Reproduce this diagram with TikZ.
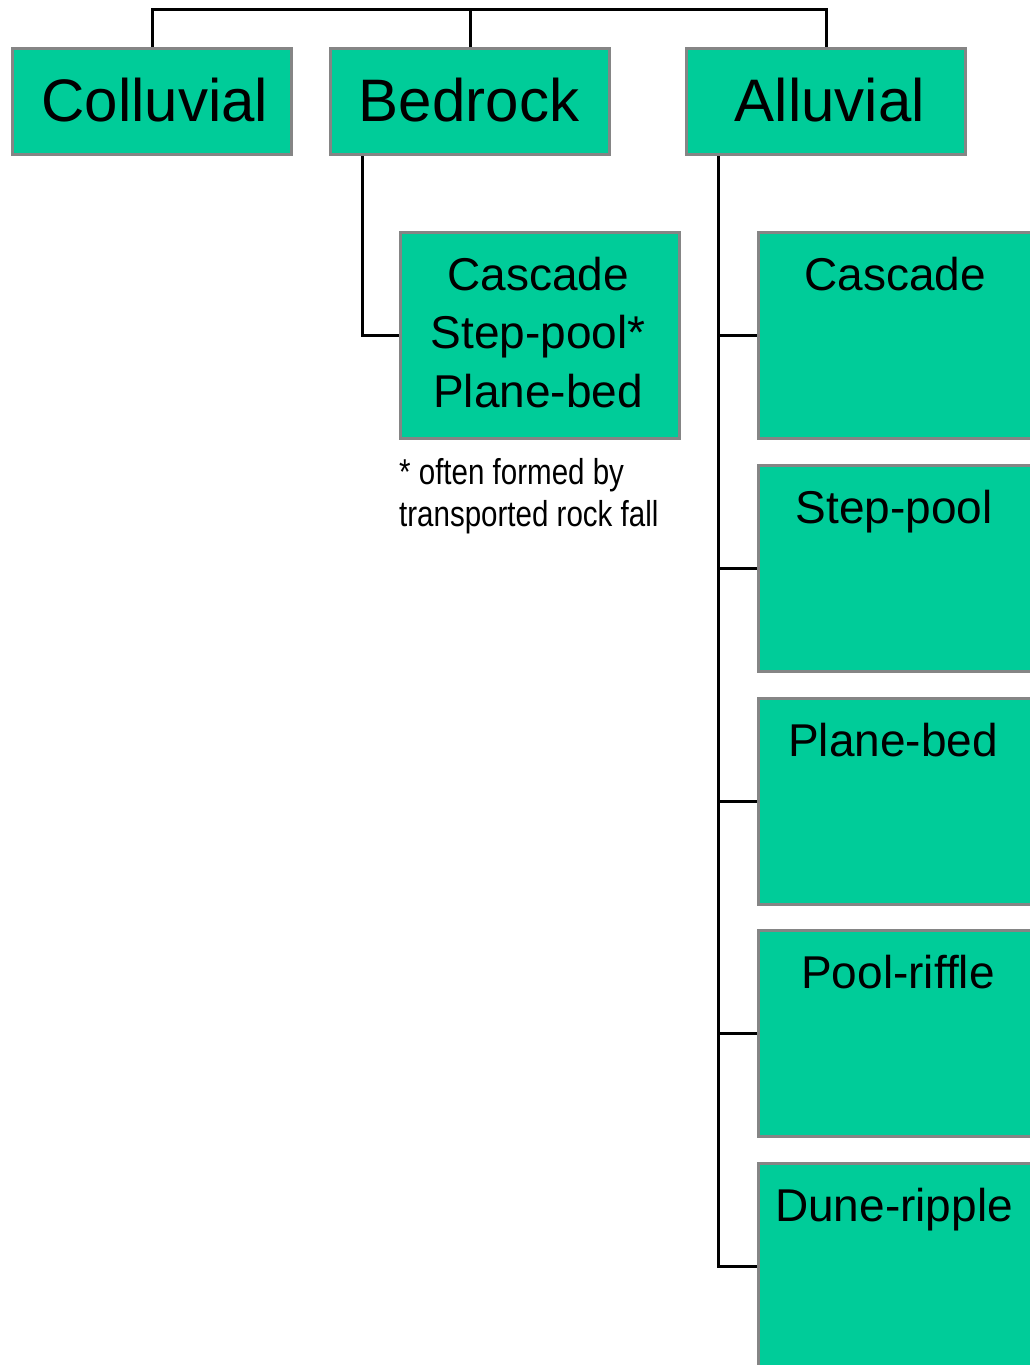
\documentclass[tikz,border=0pt]{standalone}
\usepackage{fontspec}
\setmainfont{Liberation Sans}
\newfontfamily\narrowfont[FakeStretch=0.82]{Liberation Sans}
\definecolor{boxgreen}{HTML}{00CC99}
\definecolor{boxedge}{HTML}{858585}
\begin{document}
\begin{tikzpicture}[x=1pt,y=-1pt,
  box/.style={draw=boxedge, line width=3pt, fill=boxgreen, rectangle, inner sep=0pt, anchor=north west},
  topbox/.style={box, minimum width=279pt, minimum height=106pt},
  toptext/.style={inner sep=0pt, font=\fontsize{60}{70}\selectfont},
  subbox/.style={box, minimum width=279pt, minimum height=206pt},
  subtext/.style={inner sep=0pt, align=center, font=\fontsize{46}{58.5}\selectfont},
  rbox/.style={box, minimum width=300pt, minimum height=206pt},
  rtext/.style={anchor=base, inner sep=0pt, font=\fontsize{46}{55}\selectfont},
  conn/.style={draw=black, line width=3pt}
]
\path[use as bounding box] (0,0) rectangle (1030,1365);
\clip (0,0) rectangle (1030,1365);

% top level boxes
\node[topbox] (coll) at (11,47) {};
\node[topbox] (bed) at (329,47) {};
\node[topbox] (allu) at (685,47) {};
\node[toptext] (colltext) at ([xshift=3pt,yshift=1pt]coll.center) {Colluvial};
\node[toptext] (bedtext) at ([xshift=-1pt,yshift=1pt]bed.center) {Bedrock};
\node[toptext] (allutext) at ([xshift=4pt,yshift=1pt]allu.center) {Alluvial};

% bedrock sub box
\node[subbox] (bsub) at (399,231) {};
\node[subtext] (bsubtext) at ([xshift=-2pt,yshift=3pt]bsub.center) {Cascade\\ Step-pool*\\Plane-bed};
\node[anchor=base west, inner sep=0pt, align=left, font=\narrowfont\fontsize{36}{42}\selectfont] (note) at (399,526) {* often formed by\\transported rock fall};

% alluvial boxes
\node[rbox] (r1) at (757,231) {};
\node[rbox] (r2) at (757,464) {};
\node[rbox] (r3) at (757,697) {};
\node[rbox] (r4) at (757,929) {};
\node[rbox] (r5) at (757,1162) {};
\node[rtext] (t1) at ([xshift=138pt,yshift=-59pt]r1.north west) {Cascade};
\node[rtext] (t2) at ([xshift=137pt,yshift=-59pt]r2.north west) {Step-pool};
\node[rtext] (t3) at ([xshift=136pt,yshift=-59pt]r3.north west) {Plane-bed};
\node[rtext] (t4) at ([xshift=141pt,yshift=-59pt]r4.north west) {Pool-riffle};
\node[rtext] (t5) at ([xshift=137pt,yshift=-59pt]r5.north west) {Dune-ripple};

% top connector
\coordinate (topbar) at (0,9);
\draw[conn] (coll.north) -- (coll.north |- topbar) -- (allu.north |- topbar) -- (allu.north);
\draw[conn] (bed.north) -- (bed.north |- topbar);

% bedrock connector
\coordinate (btrunk) at ([xshift=33pt]bed.south west);
\draw[conn] (btrunk) |- (bsub.west);

% alluvial connectors
\coordinate (atrunk) at ([xshift=33pt]allu.south west);
\draw[conn] (atrunk) |- (r5.west);
\draw[conn] (atrunk |- r1.west) -- (r1.west);
\draw[conn] (atrunk |- r2.west) -- (r2.west);
\draw[conn] (atrunk |- r3.west) -- (r3.west);
\draw[conn] (atrunk |- r4.west) -- (r4.west);
\end{tikzpicture}
\end{document}
